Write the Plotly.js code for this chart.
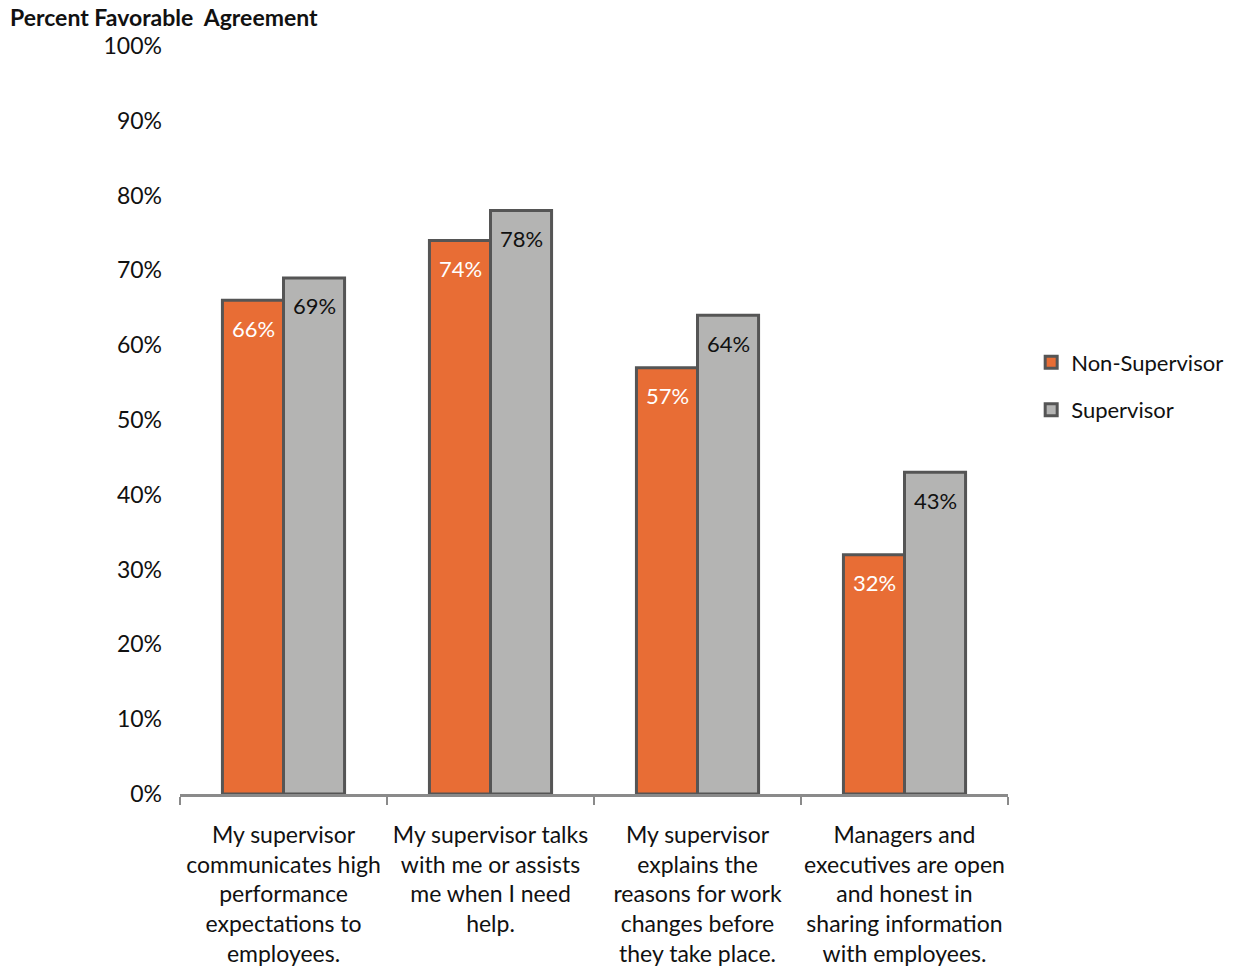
<!DOCTYPE html>
<html>
<head>
<meta charset="utf-8">
<script src="https://cdn.plot.ly/plotly-3.0.1.min.js"></script>
<style>
  html, body { margin: 0; padding: 0; background: #fff; }
  #chart { width: 1248px; height: 971px; }
</style>
</head>
<body>
<div id="chart"></div>
<script>
// Survey items (category labels, wrapped for the axis)
const categories = [
  "My supervisor<br>communicates high<br>performance<br>expectations to<br>employees.",
  "My supervisor talks<br>with me or assists<br>me when I need<br>help.",
  "My supervisor<br>explains the<br>reasons for work<br>changes before<br>they take place.",
  "Managers and<br>executives are open<br>and honest in<br>sharing information<br>with employees."
];

// Percent favorable agreement by respondent group
const seriesNames = ["Non-Supervisor", "Supervisor"];
const nonSupervisor = [66, 74, 57, 32];
const supervisor = [69, 78, 64, 43];

// Y axis ticks
const yTickVals = [0, 10, 20, 30, 40, 50, 60, 70, 80, 90, 100];
const yTickText = yTickVals.map(v => v + "%");

const FONT = "Lato, 'Open Sans', sans-serif";
const ORANGE = "#E86D35";
const GRAY = "#B4B4B3";
const EDGE = "#555555";

const traces = [
  {
    type: "bar",
    name: seriesNames[0],
    legendgroup: "a",
    x: categories,
    y: nonSupervisor,
    marker: { color: ORANGE, line: { color: EDGE, width: 3 } },
    hoverinfo: "none"
  },
  {
    type: "bar",
    name: seriesNames[1],
    legendgroup: "b",
    x: categories,
    y: supervisor,
    marker: { color: GRAY, line: { color: EDGE, width: 3 } },
    hoverinfo: "none"
  }
];

// Value labels just inside the top of each bar
const barShift = 30.5;
const annotations = [];
categories.forEach((c, i) => {
  annotations.push({
    x: c, y: nonSupervisor[i], xref: "x", yref: "y",
    text: nonSupervisor[i] + "%", showarrow: false,
    xshift: -barShift, yshift: -28,
    font: { family: FONT, size: 22, color: "#ffffff" }
  });
  annotations.push({
    x: c, y: supervisor[i], xref: "x", yref: "y",
    text: supervisor[i] + "%", showarrow: false,
    xshift: barShift, yshift: -28,
    font: { family: FONT, size: 22, color: "#111111" }
  });
});

const layout = {
  width: 1248,
  height: 971,
  margin: { l: 180, r: 240, t: 46, b: 177, pad: 0 },
  paper_bgcolor: "#ffffff",
  plot_bgcolor: "#ffffff",
  font: { family: FONT, size: 20, color: "#111111" },
  barmode: "group",
  bargap: 0.41,
  bargroupgap: 0,
  title: {
    text: "<b>Percent Favorable  Agreement</b>",
    font: { family: FONT, size: 23, color: "#111111" },
    xref: "container", yref: "container",
    x: 10 / 1248, xanchor: "left",
    y: 1 - 18 / 971, yanchor: "middle"
  },
  xaxis: {
    type: "category",
    showline: true,
    linecolor: "#8a8a8a",
    linewidth: 3,
    ticks: "outside",
    tickson: "boundaries",
    ticklen: 8,
    tickwidth: 2.5,
    tickcolor: "#8a8a8a",
    showgrid: false,
    zeroline: false,
    tickangle: 0,
    tickfont: { family: FONT, size: 23, color: "#111111" },
    ticklabelstandoff: 18,
    fixedrange: true
  },
  yaxis: {
    range: [0, 100],
    tickvals: yTickVals,
    ticktext: yTickText,
    showline: false,
    showgrid: false,
    zeroline: false,
    ticks: "",
    tickfont: { family: FONT, size: 23, color: "#111111" },
    ticklabelstandoff: 17,
    fixedrange: true
  },
  legend: {
    x: 1.028, xanchor: "left",
    y: 0.545, yanchor: "middle",
    font: { family: FONT, size: 22, color: "#111111" },
    traceorder: "grouped",
    tracegroupgap: 16,
    itemwidth: 30
  },
  annotations: annotations,
  showlegend: true
};

Plotly.newPlot("chart", traces, layout, { displayModeBar: false, staticPlot: true });
</script>
</body>
</html>
